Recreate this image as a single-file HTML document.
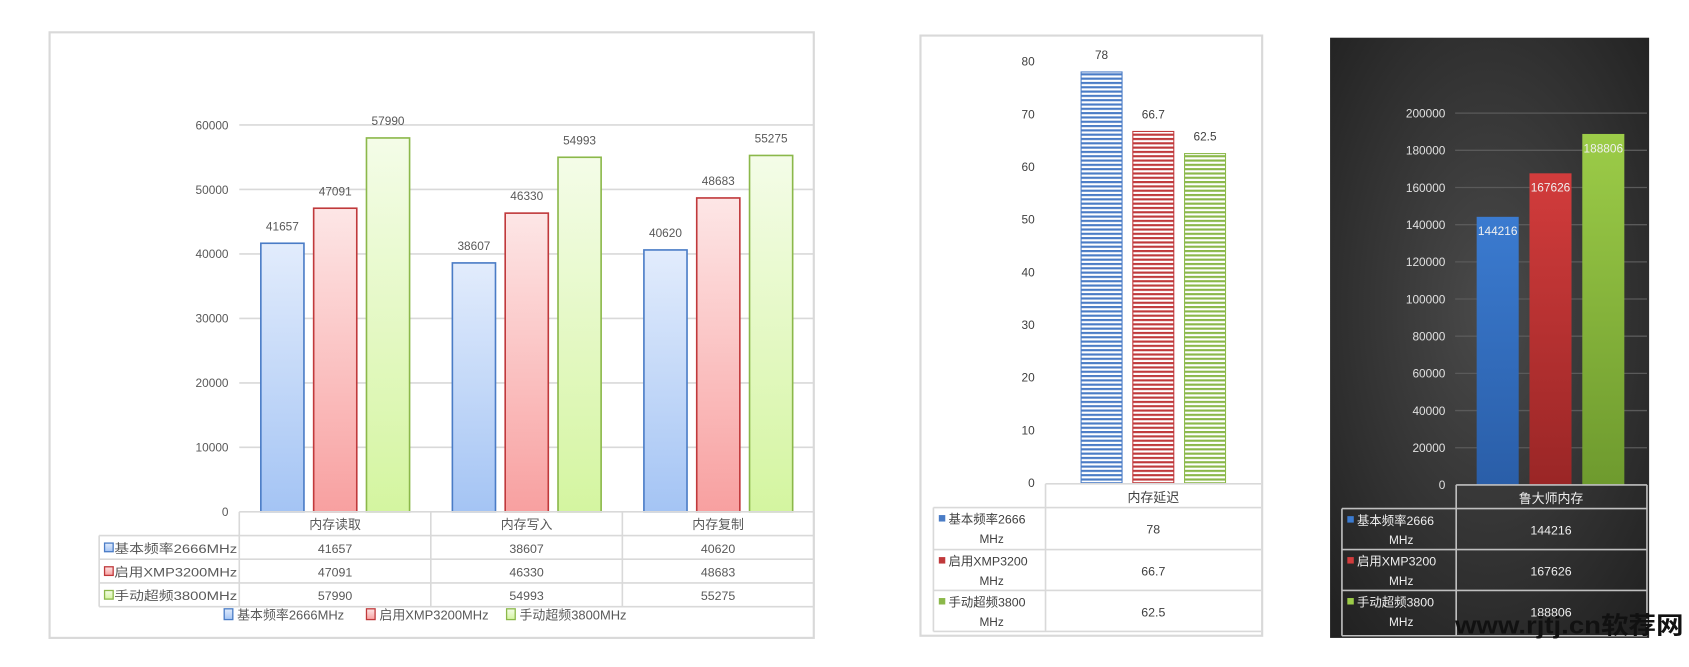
<!DOCTYPE html>
<html><head><meta charset="utf-8"><style>
html,body{margin:0;padding:0;background:#fff;overflow:hidden}
svg{display:block}
text{font-family:"Liberation Sans","Noto Sans CJK SC",sans-serif}
</style></head><body>
<svg id="s" width="1689" height="667" viewBox="0 0 1567 619" preserveAspectRatio="none" xmlns="http://www.w3.org/2000/svg">
<defs>
<linearGradient id="gB" x1="0" y1="0" x2="0" y2="1"><stop offset="0" stop-color="#e2ecfc"/><stop offset="1" stop-color="#a4c4f4"/></linearGradient>
<linearGradient id="gR" x1="0" y1="0" x2="0" y2="1"><stop offset="0" stop-color="#fde6e6"/><stop offset="1" stop-color="#f8a0a0"/></linearGradient>
<linearGradient id="gG" x1="0" y1="0" x2="0" y2="1"><stop offset="0" stop-color="#f4fce8"/><stop offset="1" stop-color="#d4f5a0"/></linearGradient>
<pattern id="pB" width="4" height="4" patternUnits="userSpaceOnUse"><rect width="4" height="4" fill="#fff"/><rect width="4" height="2" fill="#4a7cc6"/></pattern>
<pattern id="pR" width="4" height="4" patternUnits="userSpaceOnUse"><rect width="4" height="4" fill="#fff"/><rect width="4" height="2" fill="#c0393b"/></pattern>
<pattern id="pG" width="4" height="4" patternUnits="userSpaceOnUse"><rect width="4" height="4" fill="#fff"/><rect width="4" height="2" fill="#8bb84a"/></pattern>
<radialGradient id="dark" cx="0.5" cy="0.45" r="0.7"><stop offset="0" stop-color="#4a4a4a"/><stop offset="1" stop-color="#222"/></radialGradient>
<linearGradient id="dB" x1="0" y1="0" x2="0" y2="1"><stop offset="0" stop-color="#3b7bd0"/><stop offset="1" stop-color="#2a5ea8"/></linearGradient>
<linearGradient id="dR" x1="0" y1="0" x2="0" y2="1"><stop offset="0" stop-color="#d23c3c"/><stop offset="1" stop-color="#9a2626"/></linearGradient>
<linearGradient id="dG" x1="0" y1="0" x2="0" y2="1"><stop offset="0" stop-color="#9ccc48"/><stop offset="1" stop-color="#6e9a2e"/></linearGradient>
</defs>
</svg>
<script>
// ---- chart 1 data ----
const c1Categories = ["内存读取","内存写入","内存复制"];
const c1Series = ["基本频率2666MHz","启用XMP3200MHz","手动超频3800MHz"];
const c1Base = [41657,38607,40620];
const c1Xmp = [47091,46330,48683];
const c1Oc = [57990,54993,55275];
const c1Ticks = [0,10000,20000,30000,40000,50000,60000];
// ---- chart 2 data ----
const c2Category = ["内存延迟"];
const c2Values = [78,66.7,62.5];
const c2Ticks = [0,10,20,30,40,50,60,70,80];
// ---- chart 3 data ----
const c3Category = ["鲁大师内存"];
const c3Values = [144216,167626,188806];
const c3Ticks = [0,20000,40000,60000,80000,100000,120000,140000,160000,180000,200000];

const S=document.getElementById('s');const NS="http://www.w3.org/2000/svg";
function el(t,a,txt,parent){const e=document.createElementNS(NS,t);for(const k in a)e.setAttribute(k,a[k]);if(txt!==undefined)e.textContent=txt;(parent||S).appendChild(e);return e;}

// ===== Chart 1 =====
let r=el('rect',{x:46,y:30,width:709,height:562,fill:'#fff',stroke:'#d9d9d9','stroke-width':2});


const y1=v=>475-v*(359/60000);
c1Ticks.forEach(t=>{
  if(t>0){let g=el('line',{x1:222,x2:755,y1:y1(t),y2:y1(t),stroke:'#d9d9d9','stroke-width':1.5});
  
  }
  let tx=el('text',{x:212,y:y1(t)+4,'text-anchor':'end','font-size':11,fill:'#595959'},String(t));
  
  
});
const c1Fill=['url(#gB)','url(#gR)','url(#gG)'],c1Stroke=['#4a7cc6','#c0393b','#8bb84a'];
const c1All=[c1Base,c1Xmp,c1Oc];
const colW1=177.7;
c1Categories.forEach((c,i)=>{
  const x0=222+i*colW1;
  c1All.forEach((ser,j)=>{
    const v=ser[i],bx=x0+20+j*49;
    let b=el('rect',{x:bx,y:y1(v),width:40,height:475-y1(v),fill:c1Fill[j],stroke:c1Stroke[j],'stroke-width':1.5});
    
    
    let l=el('text',{x:bx+20,y:y1(v)-12,'text-anchor':'middle','font-size':11,fill:'#595959'},String(v));
    
    
  });
});
// table
const tl='#d9d9d9';
el('line',{x1:222,x2:755,y1:475,y2:475,stroke:tl,'stroke-width':1.5});
[497,519,541,563].forEach(y=>el('line',{x1:92,x2:755,y1:y,y2:y,stroke:tl,'stroke-width':1.5}));
el('line',{x1:92,x2:92,y1:497,y2:563,stroke:tl,'stroke-width':1.5});
for(let i=0;i<=3;i++)el('line',{x1:222+i*colW1,x2:222+i*colW1,y1:475,y2:563,stroke:tl,'stroke-width':1.5});
c1Categories.forEach((c,i)=>{let t=el('text',{x:222+(i+.5)*colW1,y:491,'text-anchor':'middle','font-size':12,fill:'#595959'},c);
  
  });
c1Series.forEach((s,j)=>{
  const y=497+j*22;
  el('rect',{x:97,y:y+7,width:8,height:8,fill:c1Fill[j],stroke:c1Stroke[j],'stroke-width':1.2});
  let t=el('text',{x:106,y:y+16,'font-size':11.5,fill:'#595959',textLength:114,lengthAdjust:'spacingAndGlyphs'},s);
  
  
  c1All[j].forEach((v,i)=>{el('text',{x:222+(i+.5)*colW1,y:y+16,'text-anchor':'middle','font-size':11.5,fill:'#595959'},String(v));});
});
// legend
let lx=[208,340,470];
c1Series.forEach((s,j)=>{
  el('rect',{x:lx[j],y:565,width:8,height:10,fill:c1Fill[j],stroke:c1Stroke[j],'stroke-width':1.2});
  let t=el('text',{x:lx[j]+12,y:575,'font-size':12,fill:'#595959'},s);
  
  
});

// ===== Chart 2 =====
let r2=el('rect',{x:854,y:33,width:317,height:557,fill:'#fff',stroke:'#d9d9d9','stroke-width':2});


const y2=v=>448-v*(391/80);
c2Ticks.forEach(t=>{let tx=el('text',{x:960,y:y2(t)+4,'text-anchor':'end','font-size':11,fill:'#404040'},String(t));
  
  });
const c2Fill=['url(#pB)','url(#pR)','url(#pG)'];
c2Values.forEach((v,j)=>{
  const bx=1003+j*48;
  let b=el('rect',{x:bx,y:y2(v),width:38,height:448-y2(v),fill:c2Fill[j],stroke:c1Stroke[j],'stroke-width':1});
  
  
  let l=el('text',{x:bx+19,y:y2(v)-12,'text-anchor':'middle','font-size':11,fill:'#404040'},String(v));
  
  
});
el('line',{x1:970,x2:1170,y1:449,y2:449,stroke:tl,'stroke-width':1.5});
[471,510,548,586].forEach(y=>el('line',{x1:866,x2:1170,y1:y,y2:y,stroke:tl,'stroke-width':1.5}));
el('line',{x1:970,x2:970,y1:449,y2:586,stroke:tl,'stroke-width':1.5});
el('line',{x1:866,x2:866,y1:471,y2:586,stroke:tl,'stroke-width':1.5});
let h2=el('text',{x:1070,y:466,'text-anchor':'middle','font-size':12,fill:'#404040'},c2Category[0]);


const sPart1=["基本频率2666","启用XMP3200","手动超频3800"];
c2Values.forEach((v,j)=>{
  const y=[471,510,548][j];
  el('rect',{x:871,y:y+7,width:6,height:6,fill:c1Stroke[j]});
  let t=el('text',{x:880,y:y+15,'font-size':11.5,fill:'#404040'},sPart1[j]);
  
  
  el('text',{x:920,y:y+33,'text-anchor':'middle','font-size':11,fill:'#404040'},'MHz');
  el('text',{x:1070,y:y+24,'text-anchor':'middle','font-size':11.5,fill:'#404040'},String(v));
});

// ===== Chart 3 =====
let r3=el('rect',{x:1234,y:35,width:296,height:557,fill:'url(#dark)'});


const y3=v=>450-v*(345/200000);
c3Ticks.forEach(t=>{
  if(t>0)el('line',{x1:1350,x2:1528,y1:y3(t),y2:y3(t),stroke:'#5a5a5a','stroke-width':1.2});
  let tx=el('text',{x:1341,y:y3(t)+4,'text-anchor':'end','font-size':11,fill:'#e0e0e0'},String(t));
  
  
});
const c3Fill=['url(#dB)','url(#dR)','url(#dG)'];
c3Values.forEach((v,j)=>{
  const bx=1370+j*49;
  let b=el('rect',{x:bx,y:y3(v),width:39,height:450-y3(v),fill:c3Fill[j]});
  
  
  let l=el('text',{x:bx+19.5,y:y3(v)+17,'text-anchor':'middle','font-size':11,fill:'#f0f0f0'},String(v));
  
  
});
const dl='#bfbfbf';
el('line',{x1:1351,x2:1528,y1:450,y2:450,stroke:dl,'stroke-width':1.5});
[472,510,548,590].forEach(y=>el('line',{x1:1245,x2:1528,y1:y,y2:y,stroke:dl,'stroke-width':1.5}));
el('line',{x1:1351,x2:1351,y1:450,y2:590,stroke:dl,'stroke-width':1.5});
el('line',{x1:1245,x2:1245,y1:472,y2:590,stroke:dl,'stroke-width':1.5});
el('line',{x1:1528,x2:1528,y1:450,y2:590,stroke:dl,'stroke-width':1.5});
let h3=el('text',{x:1439,y:467,'text-anchor':'middle','font-size':12,fill:'#eee'},c3Category[0]);


const dCol=['#3b7bd0','#d23c3c','#9ccc48'];
c3Values.forEach((v,j)=>{
  const y=[472,510,548][j];
  el('rect',{x:1250,y:y+7,width:6,height:6,fill:dCol[j]});
  let t=el('text',{x:1259,y:y+15,'font-size':11.5,fill:'#eee'},sPart1[j]);
  
  
  el('text',{x:1300,y:y+33,'text-anchor':'middle','font-size':11,fill:'#eee'},'MHz');
  el('text',{x:1439,y:y+24,'text-anchor':'middle','font-size':11.5,fill:'#eee'},String(v));
});
let wm=el('text',{x:1350,y:588,'font-size':22,'font-weight':'bold',fill:'#111',textLength:212,lengthAdjust:'spacingAndGlyphs'},'www.rjtj.cn软荐网');


</script>
</body></html>
